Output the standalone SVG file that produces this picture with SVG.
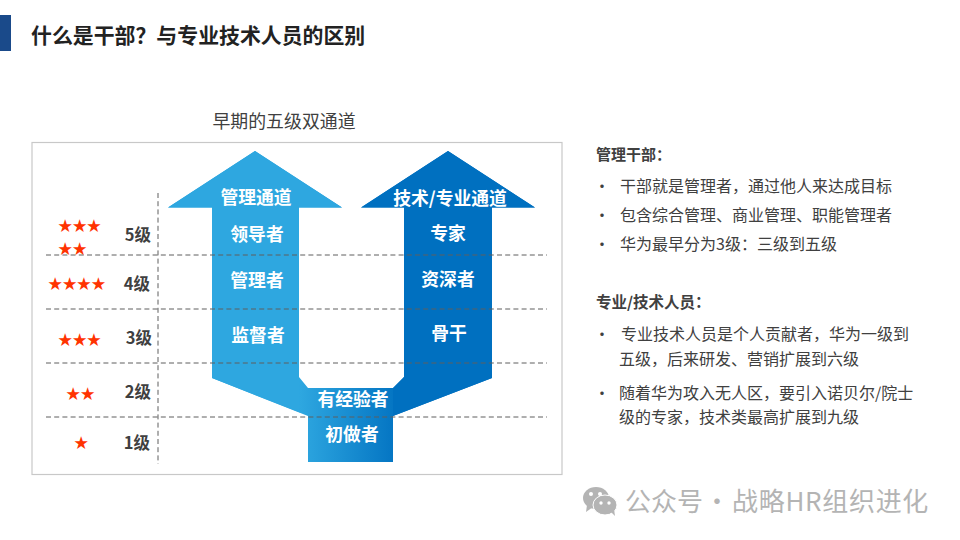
<svg xmlns="http://www.w3.org/2000/svg" width="960" height="540" viewBox="0 0 960 540">
<style>
text{font-family:"Noto Sans CJK SC","Noto Sans",sans-serif}
.w{fill:#fff;font-size:17.8px;font-weight:700;text-anchor:middle}
.lv{fill:#3f3f3f;font-size:16.5px;font-weight:700;text-anchor:end}
.st{fill:#ff3300;font-size:14.4px}
.b{fill:#404040;font-size:16px}
.h{fill:#404040;font-size:15px;font-weight:700}
.h2{font-size:15.5px}
.dash{stroke:#5f5f5f;stroke-width:1;stroke-dasharray:5 3.2;fill:none}
</style>
<defs>
<linearGradient id="g" gradientUnits="userSpaceOnUse" x1="300" y1="0" x2="404" y2="0"><stop offset="0" stop-color="#2ea7e0"/><stop offset="1" stop-color="#0070c0"/></linearGradient>
</defs>
<rect width="960" height="540" fill="#fff"/>
<g id="title">
<rect x="0" y="15" width="11" height="36" fill="#1a4a8a"/>
<text x="31" y="43" font-size="20.900" font-weight="700" fill="#222">什么是干部？与专业技术人员的区别</text>
</g>
<g id="panel">
<text x="284" y="127.500" font-size="17.900" fill="#404040" text-anchor="middle">早期的五级双通道</text>
<rect x="32" y="142.500" width="530" height="332" fill="#fff" stroke="#c8c8c8" stroke-width="1.200"/>
</g>
<g id="arrows">
<path d="M308 462V416L212 378V207.500H168L255 151L342 207.500H299V377L308 388H393L404 377V207.500H361L448 151L535 207.500H492V378L393 416V462Z" fill="url(#g)"/>
<path d="M212 378V207.500H168L255 151L342 207.500H299V380L300 412.500L212 378Z" fill="#2ea7e0"/>
<path d="M492 378V207.500H535L448 151L361 207.500H404V377L393 388V416Z" fill="#0070c0"/>
</g>
<g id="connectors">
<path class="dash" d="M46 255H547M46 309H547M46 363H547"/>
<path class="dash" d="M46 417H547"/>
<path class="dash" d="M158 193V464" stroke-width="1.500"/>
</g>
<g id="node-mgmt-channel">
<text class="w" x="256" y="204">管理通道</text>
<text class="w" x="257" y="241">领导者</text>
<text class="w" x="257" y="287">管理者</text>
<text class="w" x="258" y="341.500">监督者</text>
</g>
<g id="node-tech-channel">
<text class="w" x="450" y="205">技术/专业通道</text>
<text class="w" x="448" y="240">专家</text>
<text class="w" x="448" y="286">资深者</text>
<text class="w" x="449" y="340">骨干</text>
</g>
<g id="node-shared">
<text class="w" x="353" y="405.500">有经验者</text>
<text class="w" x="352" y="441">初做者</text>
</g>
<g id="levels">
<text class="lv" x="151" y="241">5级</text>
<text class="lv" x="150" y="290">4级</text>
<text class="lv" x="152" y="344">3级</text>
<text class="lv" x="151" y="398">2级</text>
<text class="lv" x="150" y="449">1级</text>
<text class="st" x="58" y="231">★★★</text>
<text class="st" x="58" y="254">★★</text>
<text class="st" x="48" y="289">★★★★</text>
<text class="st" x="58" y="345">★★★</text>
<text class="st" x="66" y="399">★★</text>
<text class="st" x="74" y="448">★</text>
</g>
<g id="notes">
<text class="h" x="596" y="160">管理干部：</text>
<text class="b" x="594" y="192">•</text><text class="b" x="620" y="192">干部就是管理者，通过他人来达成目标</text>
<text class="b" x="594" y="221">•</text><text class="b" x="620" y="221">包含综合管理、商业管理、职能管理者</text>
<text class="b" x="594" y="250">•</text><text class="b" x="620" y="250">华为最早分为3级：三级到五级</text>
<text class="h h2" x="596" y="308">专业/技术人员：</text>
<text class="b" x="594" y="340">•</text><text class="b" x="621" y="340">专业技术人员是个人贡献者，华为一级到</text>
<text class="b" x="619" y="365">五级，后来研发、营销扩展到六级</text>
<text class="b" x="594" y="399">•</text><text class="b" x="619" y="399">随着华为攻入无人区，要引入诺贝尔/院士</text>
<text class="b" x="619" y="423">级的专家，技术类最高扩展到九级</text>
</g>
<g id="watermark">
<ellipse cx="596" cy="498" rx="13" ry="11" fill="#b4b4b4"/>
<path d="M587 505L586 512L593 507Z" fill="#b4b4b4"/>
<ellipse cx="605" cy="505" rx="12" ry="10" fill="#b4b4b4" stroke="#fff" stroke-width="1"/>
<path d="M611 512L615 516L614 509Z" fill="#b4b4b4"/>
<circle cx="591" cy="494" r="2" fill="#fff"/><circle cx="600" cy="494" r="2" fill="#fff"/>
<circle cx="601" cy="503" r="1.700" fill="#fff"/><circle cx="609" cy="503" r="1.700" fill="#fff"/>
<text x="625" y="511" font-size="26" fill="#b4b4b4">公众号<tspan x="704">·</tspan><tspan x="732" letter-spacing="0.700">战略HR组织进化</tspan></text>
</g>
</svg>
